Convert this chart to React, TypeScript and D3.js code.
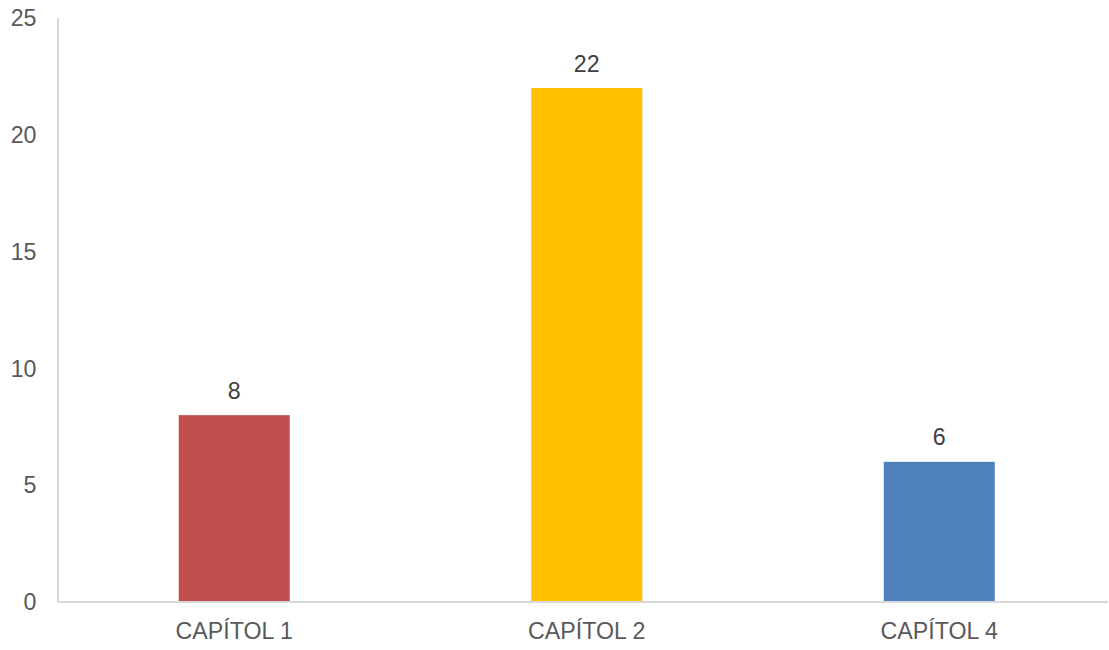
import React from "react";
import * as d3 from "d3";

const categories = ["CAPÍTOL 1", "CAPÍTOL 2", "CAPÍTOL 4"];
const values = [8, 22, 6];
const barColors = ["#C0504D", "#FFC000", "#4F81BD"];
const yTicks = [0, 5, 10, 15, 20, 25];

const W = 1109;
const H = 650;
const left = 58;
const bottom = 602;
const top = 18;

export default function App() {
  const x = d3
    .scaleBand<string>()
    .domain(categories)
    .range([left, left + 3 * 352.5])
    .paddingInner(0.685)
    .paddingOuter(0.3425);
  const y = d3.scaleLinear().domain([0, 25]).range([bottom, top]);
  const font = "'Liberation Sans', Arial, sans-serif";
  return (
    <svg
      width={W}
      height={H}
      style={{ position: "absolute", left: 0, top: 0, background: "#fff" }}
      fontFamily={font}
    >
      {categories.map((c, i) => (
        <rect
          key={c}
          x={x(c)}
          y={y(values[i])}
          width={x.bandwidth()}
          height={bottom - y(values[i])}
          fill={barColors[i]}
        />
      ))}
      <line x1={left} x2={1108} y1={bottom} y2={bottom} stroke="#d9d9d9" strokeWidth={2} />
      <line x1={left} x2={left} y1={top} y2={bottom} stroke="#d9d9d9" strokeWidth={2} />
      {yTicks.map((t) => (
        <text
          key={t}
          x={36.5}
          y={y(t)}
          dy="0.35em"
          textAnchor="end"
          fontSize={23.2}
          fill="#595959"
        >
          {t}
        </text>
      ))}
      {categories.map((c) => (
        <text
          key={c}
          x={(x(c) as number) + x.bandwidth() / 2}
          y={638.5}
          textAnchor="middle"
          fontSize={23.2}
          fill="#595959"
        >
          {c}
        </text>
      ))}
      {categories.map((c, i) => (
        <text
          key={c}
          x={(x(c) as number) + x.bandwidth() / 2}
          y={y(values[i]) - 16.5}
          textAnchor="middle"
          fontSize={23.2}
          fill="#404040"
        >
          {values[i]}
        </text>
      ))}
    </svg>
  );
}
